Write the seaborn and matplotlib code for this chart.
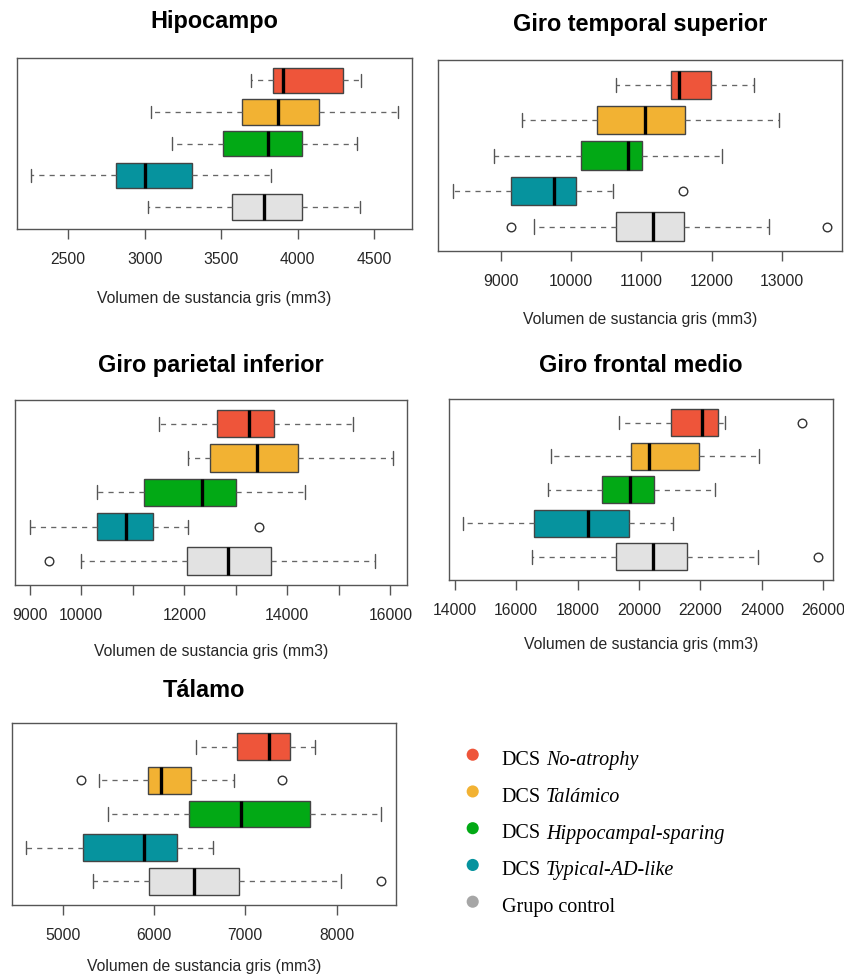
import numpy as np
import pandas as pd
import matplotlib
matplotlib.use("Agg")
import matplotlib.pyplot as plt
import seaborn as sns

# ---------------- data ----------------
groups = ["DCS No-atrophy", "DCS Talámico", "DCS Hippocampal-sparing",
          "DCS Typical-AD-like", "Grupo control"]
legend_prefix = ["DCS", "DCS", "DCS", "DCS", "Grupo control"]
legend_italic = ["No-atrophy", "Talámico", "Hippocampal-sparing", "Typical-AD-like", ""]
box_colors = ["#EE553A", "#F2B233", "#02A915", "#06939E", "#E2E2E2"]
dot_colors = ["#EE553A", "#F2B233", "#02A915", "#06939E", "#A6A6A6"]

# Hipocampo
hip_lo = [3692, 3040, 3175, 2256, 3018]
hip_q1 = [3840, 3637, 3509, 2809, 3572]
hip_med = [3901, 3873, 3803, 3001, 3781]
hip_q3 = [4297, 4136, 4025, 3306, 4025]
hip_hi = [4413, 4657, 4384, 3825, 4408]
hip_out = [[], [], [], [], []]

# Giro temporal superior
gts_lo = [10634, 9304, 8905, 8316, 9475]
gts_q1 = [11418, 10363, 10135, 9138, 10639]
gts_med = [11532, 11052, 10805, 9760, 11171]
gts_q3 = [11993, 11627, 11014, 10064, 11613]
gts_hi = [12610, 12967, 12150, 10601, 12819]
gts_out = [[], [], [], [11594], [9150, 13641]]

# Giro parietal inferior
gpi_lo = [11504, 12073, 10307, 9000, 9990]
gpi_q1 = [12642, 12500, 11219, 10300, 12047]
gpi_med = [13250, 13406, 12345, 10863, 12849]
gpi_q3 = [13742, 14208, 13011, 11400, 13690]
gpi_hi = [15269, 16045, 14337, 12067, 15709]
gpi_out = [[], [], [], [13458], [9375]]

# Giro frontal medio
gfm_lo = [19360, 17125, 17049, 14260, 16506]
gfm_q1 = [21042, 19740, 18785, 16593, 19241]
gfm_med = [22040, 20336, 19707, 18329, 20456]
gfm_q3 = [22561, 21942, 20477, 19675, 21573]
gfm_hi = [22810, 23895, 22463, 21096, 23863]
gfm_out = [[25295], [], [], [], [25837]]

# Tálamo
tal_lo = [6456, 5401, 5500, 4595, 5336]
tal_q1 = [6912, 5931, 6387, 5226, 5949]
tal_med = [7255, 6080, 6949, 5890, 6442]
tal_q3 = [7493, 6401, 7708, 6252, 6934]
tal_hi = [7763, 6880, 8485, 6650, 8051]
tal_out = [[], [5200, 7401], [], [], [8489]]

titles = ["Hipocampo", "Giro temporal superior", "Giro parietal inferior",
          "Giro frontal medio", "Tálamo"]
xlabel_text = "Volumen de sustancia gris (mm3)"

hip_ticks = [2500, 3000, 3500, 4000, 4500]
gts_ticks = [9000, 10000, 11000, 12000, 13000]
gpi_ticks = [9000, 10000, 11000, 12000, 13000, 14000, 15000, 16000]
gpi_ticklabels = ["9000", "10000", "", "12000", "", "14000", "", "16000"]
gfm_ticks = [14000, 16000, 18000, 20000, 22000, 24000, 26000]
tal_ticks = [5000, 6000, 7000, 8000]


def long_table(lo, q1, med, q3, hi, out):
    """Long-format table whose quartiles/whiskers reproduce the read summary."""
    rows = []
    for g, a, b, c, d, e, o in zip(groups, lo, q1, med, q3, hi, out):
        vals = [a] + [b] * 10 + [c] * 10 + [d] * 10 + [e] + list(o)
        rows += [(g, v) for v in vals]
    return pd.DataFrame(rows, columns=["group", "value"])


panels = [
    dict(df=long_table(hip_lo, hip_q1, hip_med, hip_q3, hip_hi, hip_out),
         ticks=hip_ticks, labels=None, xlim=(2163, 4746),
         box=(16.7, 412, 59, 230), tb=28.5, lab=298.3),
    dict(df=long_table(gts_lo, gts_q1, gts_med, gts_q3, gts_hi, gts_out),
         ticks=gts_ticks, labels=None, xlim=(8107, 13855),
         box=(438.3, 841.7, 61, 252.3), tb=30.7, lab=319.3),
    dict(df=long_table(gpi_lo, gpi_q1, gpi_med, gpi_q3, gpi_hi, gpi_out),
         ticks=gpi_ticks, labels=gpi_ticklabels, xlim=(8715, 16323),
         box=(15, 407, 400.7, 586), tb=371.7, lab=651.7),
    dict(df=long_table(gfm_lo, gfm_q1, gfm_med, gfm_q3, gfm_hi, gfm_out),
         ticks=gfm_ticks, labels=None, xlim=(13805, 26304),
         box=(448.7, 832.7, 400, 581.3), tb=371.7, lab=645.0),
    dict(df=long_table(tal_lo, tal_q1, tal_med, tal_q3, tal_hi, tal_out),
         ticks=tal_ticks, labels=None, xlim=(4442, 8650),
         box=(11.7, 396, 724.3, 905.7), tb=696.7, lab=966.7),
]

# ---------------- drawing ----------------
sns.set_style("white")
plt.rcParams["font.family"] = ["Liberation Sans", "DejaVu Sans"]

W, H = 845, 978
fig = plt.figure(figsize=(W / 100, H / 100), dpi=100)
fig.patch.set_facecolor("white")

frame_col = "#555555"
for title, p in zip(titles, panels):
    l, r, t, b = p["box"]
    ax = fig.add_axes([l / W, 1 - b / H, (r - l) / W, (b - t) / H])
    sns.boxplot(data=p["df"], x="value", y="group", hue="group",
                order=groups, hue_order=groups, palette=box_colors,
                saturation=1, width=0.8, orient="h", dodge=False, legend=False,
                whis=1.5, linecolor="#444444", linewidth=1.0, ax=ax,
                capwidths=0.4,
                medianprops=dict(color="black", linewidth=2.4),
                whiskerprops=dict(color="#666666", linewidth=0.95,
                                  linestyle=(0, (3.9, 3.9))),
                capprops=dict(color="#555555", linewidth=1.0),
                flierprops=dict(marker="o", markerfacecolor="none",
                                markeredgecolor="#333333",
                                markeredgewidth=1.0, markersize=6.2))
    ax.set_ylim(4.7, -0.7)
    ax.set_xlim(*p["xlim"])
    ax.set_yticks([])
    ax.set_ylabel("")
    ax.set_xlabel("")
    ax.set_xticks(p["ticks"])
    if p["labels"] is not None:
        ax.set_xticklabels(p["labels"])
    else:
        ax.set_xticklabels([str(v) for v in p["ticks"]])
    for s in ax.spines.values():
        s.set_visible(True)
        s.set_color(frame_col)
        s.set_linewidth(1.0)
    ax.tick_params(axis="x", bottom=True, length=7.2, width=1.0,
                   color=frame_col, pad=8.5, labelsize=11.3, labelcolor="#262626")
    ax.grid(False)
    cx = (l + r) / 2
    fig.text(cx / W, 1 - p["tb"] / H, title, ha="center", va="baseline",
             fontsize=16.9, fontweight="bold", color="black")
    fig.text(cx / W, 1 - p["lab"] / H, xlabel_text, ha="center", va="center",
             fontsize=11.3, color="#262626")

# ---------------- legend ----------------
lax = fig.add_axes([0, 0, 1, 1], zorder=-1)
lax.set_xlim(0, W)
lax.set_ylim(H, 0)
lax.axis("off")
dot_x = 472.7
y0, dy = 755.7, 36.75
ys = [y0 + i * dy for i in range(len(groups))]
lax.scatter([dot_x] * len(groups), ys, s=76, c=dot_colors, edgecolors="none")
for i, (pre, ital) in enumerate(zip(legend_prefix, legend_italic)):
    t1 = lax.text(501.7, ys[i] + 9.3, pre, ha="left", va="baseline",
                  fontsize=14.5, family=["Liberation Serif", "DejaVu Serif"],
                  color="black")
    if ital:
        lax.annotate(ital, xy=(1, 0), xycoords=t1, xytext=(3.6, 0),
                     textcoords="offset points", ha="left", va="bottom",
                     fontsize=14.5, style="italic",
                     family=["Liberation Serif", "DejaVu Serif"], color="black")

fig.savefig("out.png", dpi=100, facecolor="white")
